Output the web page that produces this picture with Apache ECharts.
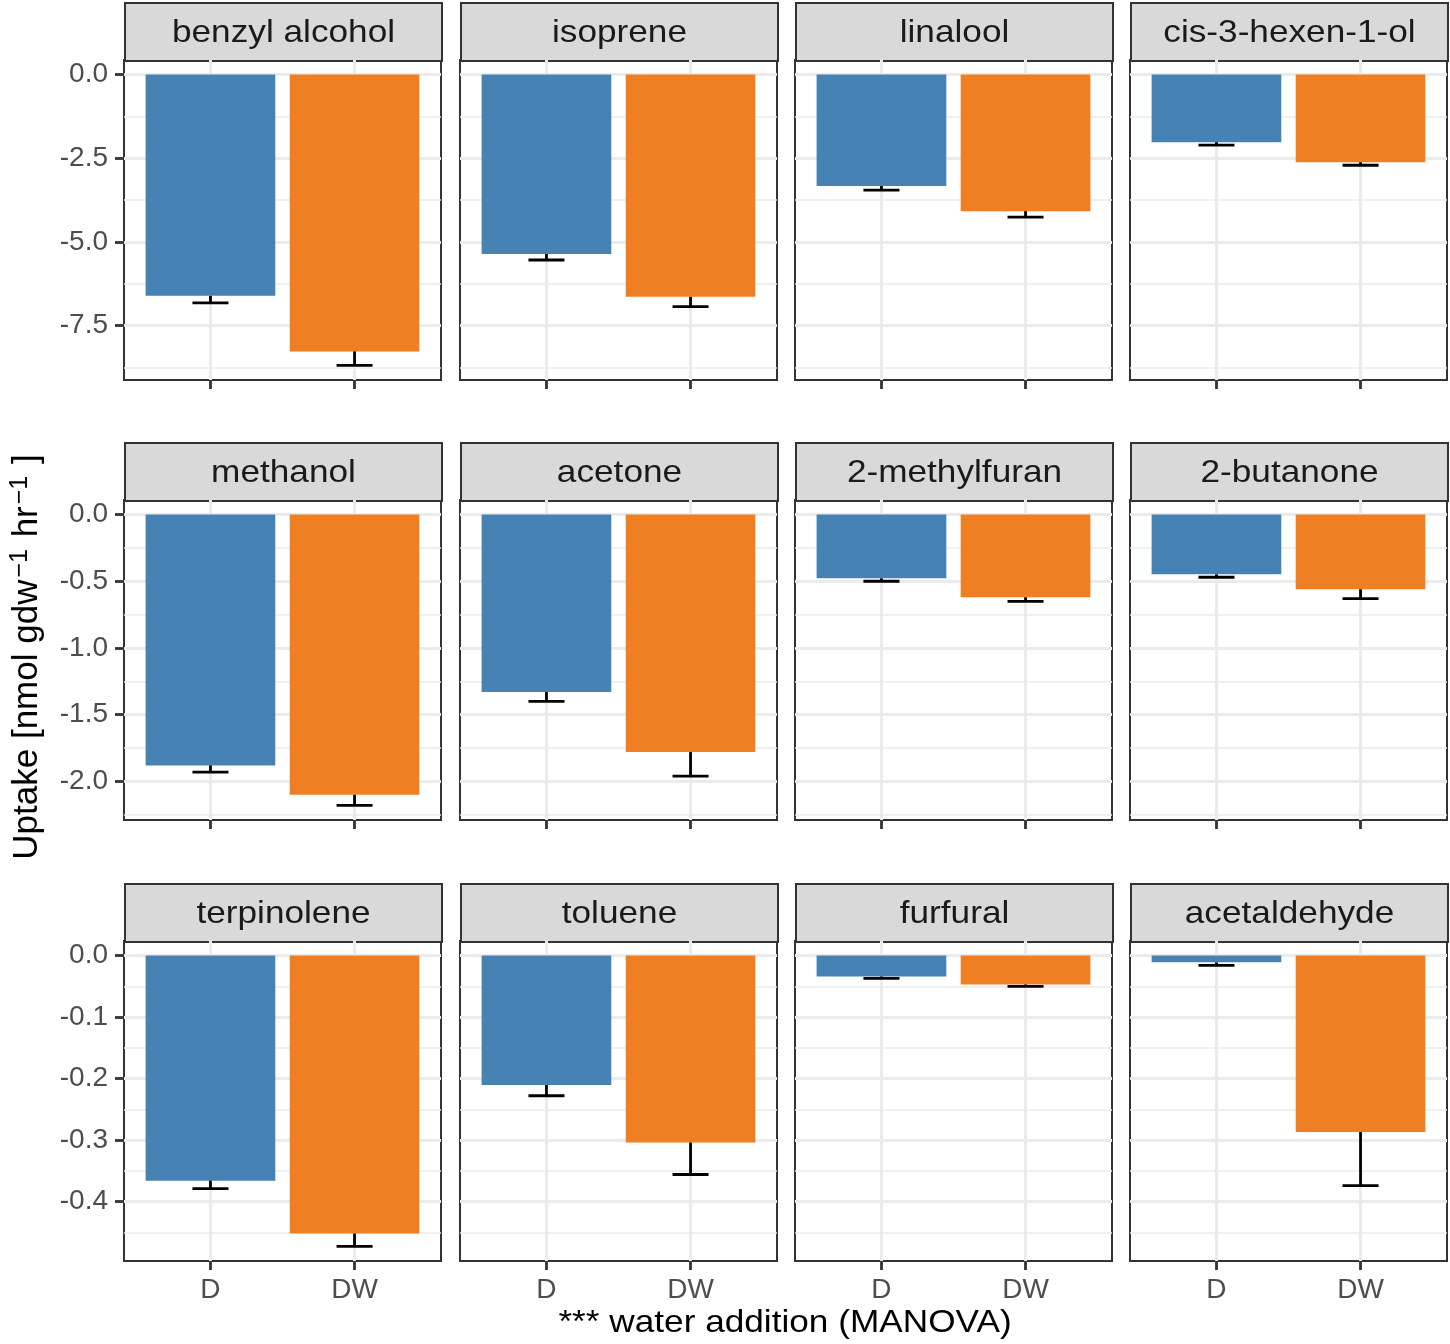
<!DOCTYPE html>
<html><head><meta charset="utf-8">
<script src="https://cdn.jsdelivr.net/npm/echarts@6/dist/echarts.min.js"></script>
<style>html,body{margin:0;padding:0;background:#fff}#c{width:1450px;height:1344px}</style>
</head><body><div id="c"></div>
<script>
// ---- data ----
const compounds = ['benzyl alcohol','isoprene','linalool','cis-3-hexen-1-ol',
                   'methanol','acetone','2-methylfuran','2-butanone',
                   'terpinolene','toluene','furfural','acetaldehyde'];
const treatments = ['D','DW'];
const meanD  = [-6.61,-5.36,-3.33,-2.02, -1.88,-1.33,-0.478,-0.448, -0.366,-0.2105,-0.034,-0.011];
const meanDW = [-8.27,-6.64,-4.08,-2.62, -2.10,-1.78,-0.62,-0.56,  -0.452,-0.304,-0.047,-0.287];
const lowD   = [-6.82,-5.54,-3.45,-2.11, -1.93,-1.40,-0.50,-0.47,  -0.379,-0.228,-0.037,-0.016];
const lowDW  = [-8.69,-6.93,-4.26,-2.71, -2.18,-1.96,-0.65,-0.63,  -0.473,-0.356,-0.050,-0.374];
const rowMajorTicks = [[0,-2.5,-5,-7.5],[0,-0.5,-1,-1.5,-2],[0,-0.1,-0.2,-0.3,-0.4]];
const rowTickLabels = [['0.0','-2.5','-5.0','-7.5'],['0.0','-0.5','-1.0','-1.5','-2.0'],['0.0','-0.1','-0.2','-0.3','-0.4']];
const rowMinorTicks = [[-1.25,-3.75,-6.25,-8.75],[-0.25,-0.75,-1.25,-1.75,-2.25],[-0.05,-0.15,-0.25,-0.35,-0.45]];
const xTitle = '*** water addition (MANOVA)';

// ---- layout / style ----
const FONT = '"Liberation Sans", Arial, Helvetica, sans-serif';
const colX = [124, 460, 795, 1130];
const rowTop = [60, 500, 941];
const PW = 317, PH = 320, SH = 58;
const COLORS = ['#4682B4', '#F07F24'];
const GRID_C = '#EBEBEB';

// row y-ranges: ggplot-like 5% expansion of the data range (incl. 0)
const rowRange = [0,1,2].map(r => {
  let lo = 0;
  for (let c = 0; c < 4; c++) { const i = r*4+c; lo = Math.min(lo, lowD[i], lowDW[i], meanD[i], meanDW[i]); }
  const pad = (0 - lo) * 0.05;
  return [lo - pad, 0 + pad];
});

const grids = [], xAxes = [], yAxes = [], yMinor = [], series = [], graphics = [];
for (let i = 0; i < 12; i++) {
  const r = Math.floor(i/4), c = i % 4;
  grids.push({ left: colX[c], top: rowTop[r], width: PW, height: PH, show: true,
               backgroundColor: '#fff', borderColor: '#333333', borderWidth: 2 });
  xAxes.push({
    type: 'value', gridIndex: i, min: 0.4, max: 2.6, position: 'bottom',
    axisLine: { show: false, onZero: false },
    axisTick: { show: true, customValues: [1,2], length: 9, lineStyle: { color: '#333333', width: 2.8 } },
    axisLabel: { show: r === 2, customValues: [1,2], margin: 15, fontSize: 28, fontFamily: FONT, color: '#4D4D4D',
                 formatter: v => treatments[Math.round(v)-1] },
    splitLine: { show: true, lineStyle: { color: GRID_C, width: 3 } },
    minorSplitLine: { show: false }
  });
  const ticks = rowMajorTicks[r], labels = rowTickLabels[r];
  yAxes.push({
    type: 'value', gridIndex: i, min: rowRange[r][0], max: rowRange[r][1], position: 'left',
    axisLine: { show: false, onZero: false },
    axisTick: { show: c === 0, customValues: ticks, length: 9, lineStyle: { color: '#333333', width: 2.8 } },
    axisLabel: { show: c === 0, customValues: ticks, margin: 16, fontSize: 28, fontFamily: FONT, color: '#4D4D4D',
                 formatter: v => { let k = 0, d = 1e9; ticks.forEach((t, j) => { if (Math.abs(t - v) < d) { d = Math.abs(t - v); k = j; } }); return labels[k]; } },
    splitLine: { show: true, lineStyle: { color: GRID_C, width: 3 } }
  });
  yMinor.push({
    type: 'value', gridIndex: i, min: rowRange[r][0], max: rowRange[r][1], position: 'left',
    axisLine: { show: false, onZero: false },
    axisTick: { show: false, customValues: rowMinorTicks[r] },
    axisLabel: { show: false, customValues: rowMinorTicks[r] },
    splitLine: { show: true, lineStyle: { color: GRID_C, width: 1.5 } }
  });

  series.push({
    type: 'custom', xAxisIndex: i, yAxisIndex: i, z: 3,
    encode: { x: 0, y: 1 },
    data: [[1, meanD[i]], [2, meanDW[i]]],
    renderItem: (params, api) => {
      const x = api.value(0), v = api.value(1);
      const p0 = api.coord([x - 0.45, 0]), p1 = api.coord([x + 0.45, v]);
      return { type: 'rect', shape: { x: p0[0], y: p0[1], width: p1[0] - p0[0], height: p1[1] - p0[1] },
               style: { fill: COLORS[x - 1] } };
    }
  });
  series.push({
    type: 'custom', xAxisIndex: i, yAxisIndex: i, z: 4,
    encode: { x: 0, y: [1, 2] },
    data: [[1, meanD[i], lowD[i]], [2, meanDW[i], lowDW[i]]],
    renderItem: (params, api) => {
      const x = api.value(0), m = api.value(1), lo = api.value(2);
      const a = api.coord([x, m]), b = api.coord([x, lo]);
      const l = api.coord([x - 0.125, lo]), rr = api.coord([x + 0.125, lo]);
      const st = { stroke: '#000', lineWidth: 2.8, fill: null };
      return { type: 'group', children: [
        { type: 'line', shape: { x1: a[0], y1: a[1], x2: b[0], y2: b[1] }, style: st },
        { type: 'line', shape: { x1: l[0], y1: l[1], x2: rr[0], y2: rr[1] }, style: st }
      ] };
    }
  });

  // facet strip
  graphics.push({
    type: 'group', left: colX[c], top: rowTop[r] - SH,
    children: [
      { type: 'rect', shape: { x: 0, y: 0, width: PW, height: SH },
        style: { fill: '#D9D9D9', stroke: '#333333', lineWidth: 2 } },
      { type: 'text', x: PW/2, y: SH/2 + 1, scaleX: 1.1,
        style: { text: compounds[i], fontSize: 32, fontFamily: FONT, fill: '#1A1A1A', align: 'center', verticalAlign: 'middle' } }
    ]
  });
}

graphics.push({
  type: 'text', x: 785, y: 1323, scaleX: 1.1,
  style: { text: xTitle, fontSize: 32, fontFamily: FONT, fill: '#000', align: 'center', verticalAlign: 'middle' }
});
graphics.push({
  type: 'text', x: 27, y: 657, rotation: Math.PI / 2, scaleX: 1.0,
  style: { text: 'Uptake [nmol gdw{s|−1} hr{s|−1} ]', fontSize: 35, fontFamily: FONT, fill: '#000',
           align: 'center', verticalAlign: 'middle',
           rich: { s: { fontSize: 25, fontFamily: FONT, fill: '#000', verticalAlign: 'top', padding: [0, 2, 14, 2] } } }
});

const chart = echarts.init(document.getElementById('c'), null, { renderer: 'canvas' });
chart.setOption({
  animation: false,
  backgroundColor: '#fff',
  grid: grids,
  xAxis: xAxes,
  yAxis: yAxes.concat(yMinor),
  series: series,
  graphic: graphics
});
</script></body></html>
